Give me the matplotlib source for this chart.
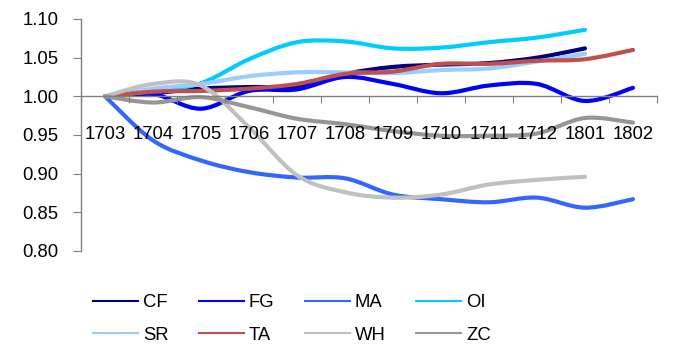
import numpy as np
import matplotlib
matplotlib.use("Agg")
import matplotlib.pyplot as plt
from matplotlib.path import Path
from matplotlib.patches import PathPatch
from matplotlib.lines import Line2D

plt.rcParams['font.family'] = ['Liberation Sans', 'DejaVu Sans']

# index values per contract month
months = ['1703', '1704', '1705', '1706', '1707', '1708',
          '1709', '1710', '1711', '1712', '1801', '1802']

cf = [1.000, 1.004, 1.010, 1.012, 1.013, 1.029, 1.038, 1.041, 1.043, 1.050, 1.062]
fg = [1.000, 1.003, 0.984, 1.007, 1.009, 1.025, 1.016, 1.004, 1.014, 1.016, 0.994, 1.011]
ma = [1.000, 0.943, 0.917, 0.902, 0.895, 0.894, 0.873, 0.867, 0.863, 0.869, 0.856, 0.867]
oi = [1.000, 1.007, 1.017, 1.048, 1.070, 1.071, 1.062, 1.063, 1.070, 1.076, 1.086]
sr = [1.000, 1.010, 1.016, 1.026, 1.031, 1.031, 1.030, 1.034, 1.036, 1.045, 1.055]
ta = [1.000, 1.006, 1.007, 1.010, 1.016, 1.029, 1.032, 1.042, 1.042, 1.046, 1.048, 1.060]
wh = [1.000, 1.016, 1.014, 0.960, 0.898, 0.876, 0.869, 0.873, 0.886, 0.892, 0.896]
zc = [1.000, 0.992, 0.999, 0.986, 0.971, 0.964, 0.955, 0.949, 0.949, 0.952, 0.972, 0.966]

names = ['CF', 'FG', 'MA', 'OI', 'SR', 'TA', 'WH', 'ZC']
series = [cf, fg, ma, oi, sr, ta, wh, zc]
colors = ['#000080', '#0000FF', '#3366FF', '#00CCFF',
          '#99CCFF', '#C0504D', '#C0C0C0', '#969696']


def smooth_path(xs, ys):
    # cubic bezier through every point, same tension as spreadsheet "smoothed line"
    pts = np.column_stack([xs, ys]).astype(float)
    n = len(pts)
    verts = [pts[0]]
    codes = [Path.MOVETO]
    for i in range(n - 1):
        p0 = pts[i - 1] if i > 0 else pts[i]
        p1 = pts[i]
        p2 = pts[i + 1]
        p3 = pts[i + 2] if i + 2 < n else pts[i + 1]
        c1 = p1 + (p2 - p0) / 6.0
        c2 = p2 - (p3 - p1) / 6.0
        verts += [c1, c2, p2]
        codes += [Path.CURVE4] * 3
    return Path(verts, codes)


fig = plt.figure(figsize=(6.73, 3.45), dpi=100)
ax = fig.add_axes([81 / 673, 1 - 251 / 345, 576 / 673, 232 / 345])

handles = []
for name, vals, col in zip(names, series, colors):
    x = np.arange(len(vals))
    patch = PathPatch(smooth_path(x, vals), facecolor='none', edgecolor=col,
                      lw=3.0, capstyle='round', joinstyle='round')
    ax.add_patch(patch)
    handles.append(Line2D([], [], color=col, lw=1.5, label=name))

ax.set_xlim(-0.5, len(months) - 0.5)
ax.set_ylim(0.80, 1.10)
ax.set_yticks(np.arange(0.80, 1.101, 0.05))
ax.set_yticklabels(['%.2f' % v for v in np.arange(0.80, 1.101, 0.05)])

# category axis crosses at 1.00, ticks between categories
ax.spines['bottom'].set_position(('data', 1.0))
ax.spines['top'].set_visible(False)
ax.spines['right'].set_visible(False)
for s in ('left', 'bottom'):
    ax.spines[s].set_color('#808080')
    ax.spines[s].set_linewidth(1.0)

ax.set_xticks(np.arange(-0.5, len(months), 1.0))
ax.set_xticklabels([])
ax.set_xticks(np.arange(len(months)), minor=True)
ax.set_xticklabels(months, minor=True)
ax.tick_params(axis='x', which='major', length=5, color='#808080', direction='out')
ax.tick_params(axis='x', which='minor', length=0, pad=21, labelsize=13.3)
ax.tick_params(axis='y', length=6, color='#808080', direction='out',
               pad=10, labelsize=13.3)

# legend fills row by row: 4 entries per row
order = [0, 4, 1, 5, 2, 6, 3, 7]
fig.legend(handles=[handles[i] for i in order], ncol=4, loc='upper left',
           bbox_to_anchor=(93 / 673, 1 - 294 / 345), frameon=False,
           fontsize=13.3, handlelength=2.43, handletextpad=0.27,
           columnspacing=1.65, labelspacing=0.85, borderpad=0, borderaxespad=0)

fig.savefig('out.png', dpi=100)
